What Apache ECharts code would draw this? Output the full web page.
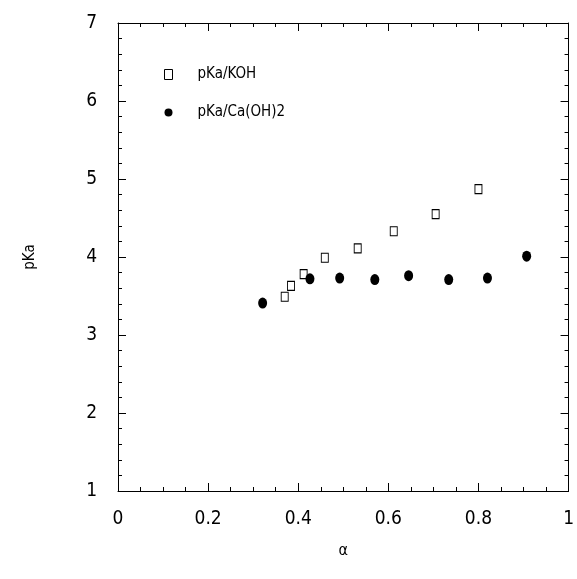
<!DOCTYPE html>
<html lang="en">
<head>
  <meta charset="UTF-8">
  <title>pKa vs alpha</title>
  <script src="https://cdn.jsdelivr.net/npm/echarts@6/dist/echarts.min.js"></script>
  <style>
    html, body { margin: 0; padding: 0; background: #fff; }
    #main { width: 577px; height: 579px; }
  </style>
</head>
<body>
  <div id="main"></div>
  <script type="text/javascript">
    // data
    var kohAlpha = [0.370, 0.384, 0.412, 0.459, 0.532, 0.612, 0.705, 0.800];
    var kohPka   = [3.49, 3.63, 3.78, 3.99, 4.11, 4.33, 4.55, 4.87];
    var caAlpha  = [0.321, 0.426, 0.492, 0.570, 0.645, 0.734, 0.820, 0.907];
    var caPka    = [3.41, 3.72, 3.73, 3.71, 3.76, 3.71, 3.73, 4.01];

    var font = "'Liberation Sans Narrow', 'DejaVu Sans Condensed', 'Liberation Sans', sans-serif";

    function pairs(xs, ys) {
      return xs.map(function (x, i) { return [x, ys[i]]; });
    }

    var black = { color: '#000', width: 1 };

    var myChart = echarts.init(document.getElementById('main'));

    var option = {
      backgroundColor: '#fff',
      animation: false,
      grid: { left: 118, top: 23, right: 8, bottom: 88 },
      legend: {
        orient: 'vertical',
        left: 159,
        top: 62,
        itemWidth: 8,
        itemHeight: 10,
        itemGap: 23,
        itemStyle: { borderWidth: 1 },
        textStyle: { fontFamily: font, fontSize: 15, color: '#000', padding: [0, 0, 0, 20] },
        data: [
          { name: 'pKa/KOH', icon: 'rect' },
          { name: 'pKa/Ca(OH)2', icon: 'circle' }
        ]
      },
      xAxis: [{
        type: 'value', min: 0, max: 1, interval: 0.2,
        name: 'α', nameLocation: 'middle', nameGap: 52,
        nameTextStyle: { fontFamily: font, fontSize: 16, color: '#000' },
        axisLine: { onZero: false, lineStyle: black },
        axisTick: { inside: true, length: 8, lineStyle: black },
        minorTick: { show: true, splitNumber: 4, length: 4, lineStyle: black },
        axisLabel: { fontFamily: font, fontSize: 19, color: '#000', margin: 19 },
        splitLine: { show: false }
      }, {
        type: 'value', min: 0, max: 1, interval: 0.2, position: 'top',
        axisLine: { show: true, onZero: false, lineStyle: black },
        axisTick: { inside: true, length: 8, lineStyle: black },
        minorTick: { show: true, splitNumber: 4, length: 4, lineStyle: black },
        axisLabel: { show: false },
        splitLine: { show: false }
      }],
      yAxis: [{
        type: 'value', min: 1, max: 7, interval: 1,
        name: 'pKa', nameLocation: 'middle', nameGap: 80, nameRotate: 90,
        nameTextStyle: { fontFamily: font, fontSize: 15, color: '#000' },
        axisLine: { show: true, onZero: false, lineStyle: black },
        axisTick: { show: true, inside: true, length: 8, lineStyle: black },
        minorTick: { show: true, splitNumber: 5, length: 4, lineStyle: black },
        axisLabel: { fontFamily: font, fontSize: 19, color: '#000', margin: 21 },
        splitLine: { show: false }
      }, {
        type: 'value', min: 1, max: 7, interval: 1, position: 'right',
        axisLine: { show: true, onZero: false, lineStyle: black },
        axisTick: { show: true, inside: true, length: 8, lineStyle: black },
        minorTick: { show: true, splitNumber: 5, length: 4, lineStyle: black },
        axisLabel: { show: false },
        splitLine: { show: false }
      }],
      series: [{
        name: 'pKa/KOH',
        type: 'scatter',
        symbol: 'rect',
        symbolSize: [7, 9],
        itemStyle: { color: '#fff', borderColor: '#000', borderWidth: 1, opacity: 1 },
        data: pairs(kohAlpha, kohPka)
      }, {
        name: 'pKa/Ca(OH)2',
        type: 'scatter',
        symbol: 'circle',
        symbolSize: [9, 11],
        itemStyle: { color: '#000', opacity: 1 },
        data: pairs(caAlpha, caPka)
      }]
    };

    myChart.setOption(option);
  </script>
</body>
</html>
